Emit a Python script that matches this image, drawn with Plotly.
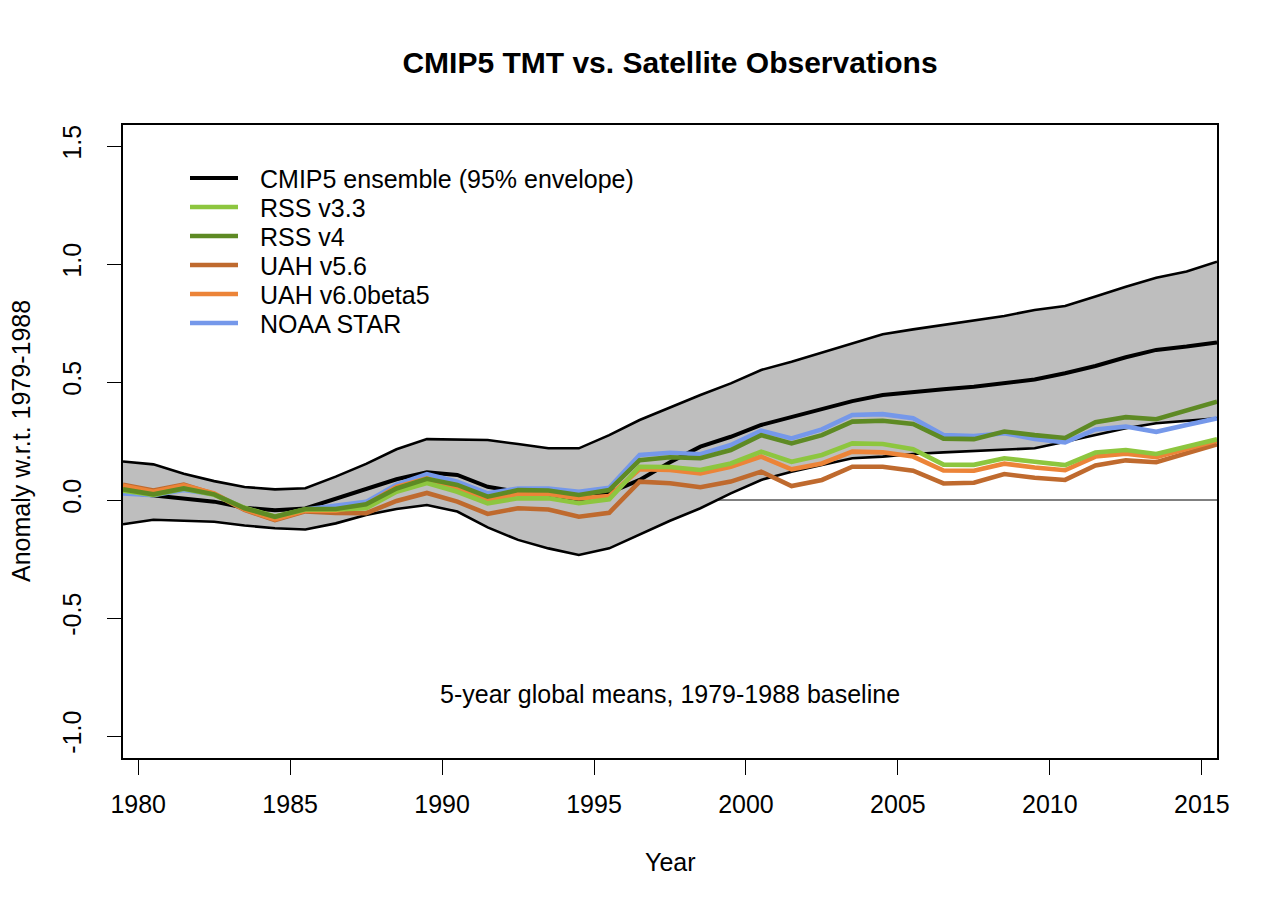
import plotly.graph_objects as go

# ---- data (5-year global means, anomalies w.r.t. 1979-1988) ----
years = [1979.5 + i for i in range(37)]

cmip5_upper = [0.163, 0.151, 0.111, 0.080, 0.055, 0.045, 0.050, 0.099, 0.153, 0.215,
               0.258, 0.257, 0.254, 0.237, 0.219, 0.219, 0.275, 0.339, 0.392, 0.445,
               0.494, 0.551, 0.586, 0.624, 0.664, 0.702, 0.723, 0.742, 0.760, 0.780,
               0.805, 0.822, 0.862, 0.904, 0.942, 0.968, 1.010]
cmip5_mean = [0.033, 0.021, 0.007, -0.007, -0.033, -0.043, -0.036, 0.005, 0.050, 0.088,
              0.118, 0.106, 0.056, 0.035, 0.014, 0.000, 0.030, 0.085, 0.160, 0.226,
              0.268, 0.318, 0.353, 0.388, 0.419, 0.445, 0.455, 0.469, 0.480, 0.494,
              0.511, 0.537, 0.568, 0.605, 0.636, 0.650, 0.667]
cmip5_lower = [-0.103, -0.084, -0.088, -0.092, -0.108, -0.120, -0.125, -0.099, -0.064, -0.038,
               -0.021, -0.049, -0.116, -0.169, -0.205, -0.233, -0.205, -0.148, -0.088, -0.035,
               0.028, 0.085, 0.120, 0.148, 0.177, 0.184, 0.195, 0.202, 0.208, 0.212,
               0.219, 0.247, 0.275, 0.304, 0.325, 0.336, 0.346]

noaa_star = [0.028, 0.020, 0.042, 0.025, -0.035, -0.072, -0.040, -0.025, -0.008, 0.065,
             0.110, 0.078, 0.028, 0.049, 0.049, 0.035, 0.052, 0.191, 0.200, 0.194,
             0.233, 0.294, 0.261, 0.299, 0.360, 0.364, 0.346, 0.275, 0.271, 0.283,
             0.259, 0.244, 0.299, 0.311, 0.289, 0.318, 0.346]
rss_v4 = [0.045, 0.024, 0.049, 0.024, -0.035, -0.071, -0.038, -0.038, -0.018, 0.049,
          0.090, 0.064, 0.014, 0.042, 0.040, 0.021, 0.042, 0.169, 0.181, 0.177,
          0.212, 0.275, 0.240, 0.275, 0.332, 0.336, 0.322, 0.260, 0.258, 0.290,
          0.275, 0.263, 0.330, 0.351, 0.342, 0.381, 0.417]
rss_v33 = [0.040, 0.022, 0.048, 0.022, -0.033, -0.070, -0.040, -0.040, -0.035, 0.035,
           0.072, 0.035, -0.014, 0.007, 0.007, -0.014, 0.003, 0.141, 0.140, 0.127,
           0.155, 0.205, 0.162, 0.191, 0.240, 0.237, 0.215, 0.150, 0.149, 0.177,
           0.162, 0.148, 0.201, 0.212, 0.195, 0.226, 0.257]
uah_v6 = [0.060, 0.035, 0.062, 0.028, -0.040, -0.082, -0.045, -0.045, -0.020, 0.056,
          0.092, 0.049, 0.000, 0.025, 0.025, 0.007, 0.017, 0.130, 0.127, 0.113,
          0.141, 0.184, 0.130, 0.155, 0.205, 0.202, 0.184, 0.125, 0.124, 0.154,
          0.138, 0.126, 0.184, 0.196, 0.181, 0.217, 0.252]
uah_v56 = [0.065, 0.040, 0.065, 0.025, -0.042, -0.085, -0.048, -0.055, -0.056, -0.004,
           0.030, -0.007, -0.059, -0.035, -0.040, -0.071, -0.054, 0.078, 0.071, 0.054,
           0.078, 0.120, 0.059, 0.085, 0.141, 0.141, 0.124, 0.070, 0.073, 0.110,
           0.094, 0.085, 0.146, 0.168, 0.160, 0.196, 0.236]

y_tick_vals = [-1.0, -0.5, 0.0, 0.5, 1.0, 1.5]
y_tick_text = ["-1.0", "-0.5", "0.0", "0.5", "1.0", "1.5"]
x_tick_vals = [1980, 1985, 1990, 1995, 2000, 2005, 2010, 2015]

legend_labels = ["CMIP5 ensemble (95% envelope)", "RSS v3.3", "RSS v4", "UAH v5.6",
                 "UAH v6.0beta5", "NOAA STAR"]

FONT = "Liberation Sans, Arial, Helvetica, sans-serif"
C_RSS33 = "#8DC63F"
C_RSS4 = "#5E8A24"
C_UAH56 = "#BF6A2E"
C_UAH6 = "#EC8438"
C_NOAA = "#7598EA"
legend_colors = ["black", C_RSS33, C_RSS4, C_UAH56, C_UAH6, C_NOAA]
legend_widths = [4, 4.6, 4.6, 4.6, 4.6, 4.6]

# page offset (browser body margin) and target plot-area box in page pixels
OFF = 8
PX0, PX1, PY0, PY1 = 123, 1217, 125, 758
FW, FH = 1264, 896
PW, PH = PX1 - PX0, PY1 - PY0
L, T = PX0 - OFF, PY0 - OFF
R, B = FW - L - PW, FH - T - PH


def px(xabs):
    return (xabs - PX0) / PW


def py(yabs):
    return 1 - (yabs - PY0) / PH


fig = go.Figure()

# zero reference line, drawn beneath the envelope
fig.add_hline(y=0, line=dict(color="black", width=1), layer="below")

# grey envelope
fig.add_trace(go.Scatter(x=years + years[::-1], y=cmip5_upper + cmip5_lower[::-1],
                         fill="toself", fillcolor="#BEBEBE", line=dict(width=0),
                         mode="lines", hoverinfo="skip", showlegend=False))

fig.add_trace(go.Scatter(x=years, y=cmip5_upper, mode="lines",
                         line=dict(color="black", width=2.6), showlegend=False))
fig.add_trace(go.Scatter(x=years, y=cmip5_lower, mode="lines",
                         line=dict(color="black", width=2.6), showlegend=False))
fig.add_trace(go.Scatter(x=years, y=cmip5_mean, mode="lines",
                         line=dict(color="black", width=4), name=legend_labels[0],
                         showlegend=False))

W = 4.6
for series, color, name in [(noaa_star, C_NOAA, "NOAA STAR"), (uah_v56, C_UAH56, "UAH v5.6"),
                            (uah_v6, C_UAH6, "UAH v6.0beta5"), (rss_v33, C_RSS33, "RSS v3.3"),
                            (rss_v4, C_RSS4, "RSS v4")]:
    fig.add_trace(go.Scatter(x=years, y=series, mode="lines", line=dict(color=color, width=W),
                             name=name, showlegend=False))

# manual legend (R-style, no box)
row_y = [178, 207, 236, 265, 294, 323]
for lab, col, lw, yy in zip(legend_labels, legend_colors, legend_widths, row_y):
    fig.add_shape(type="line", xref="paper", yref="paper", x0=px(190), x1=px(238),
                  y0=py(yy), y1=py(yy), line=dict(color=col, width=lw))
    fig.add_annotation(text=lab, xref="paper", yref="paper", x=px(258), y=py(yy + 1),
                       xanchor="left", yanchor="middle", showarrow=False,
                       font=dict(size=25, family=FONT, color="black"))

fig.update_layout(
    width=FW, height=FH,
    margin=dict(l=L, r=R, t=T, b=B, autoexpand=False),
    paper_bgcolor="white", plot_bgcolor="white",
    font=dict(family=FONT, size=25, color="black"),
    title=dict(text="<b>CMIP5 TMT vs. Satellite Observations</b>",
               x=(670 - OFF) / FW, xanchor="center",
               y=1 - (62 - OFF) / FH, yanchor="middle", yref="container",
               font=dict(family=FONT, size=30, color="black")),
    showlegend=False,
    xaxis=dict(range=[1979.5, 2015.5], tickvals=x_tick_vals, ticks="outside", ticklen=15,
               tickwidth=1.3, tickcolor="black", showgrid=False, zeroline=False,
               showline=True, linecolor="black", linewidth=1.5, mirror=True,
               tickfont=dict(size=25), ticklabelstandoff=8),
    yaxis=dict(range=[-(PY1 - 500) / 236, (500 - PY0) / 236], tickvals=y_tick_vals,
               ticktext=y_tick_text, ticks="outside", ticklen=14, tickwidth=1.3,
               tickcolor="black", showgrid=False, zeroline=False, showline=True,
               linecolor="black", linewidth=1.5, mirror=True, tickangle=-90,
               tickfont=dict(size=25), ticklabelstandoff=16),
)

fig.add_annotation(text="5-year global means, 1979-1988 baseline", x=1997.5, y=-0.822,
                   xref="x", yref="y", showarrow=False, font=dict(size=25, family=FONT),
                   xanchor="center", yanchor="middle")
fig.add_annotation(text="Year", x=px(670), y=py(862), xref="paper", yref="paper",
                   showarrow=False, font=dict(size=25, family=FONT), yanchor="middle")
fig.add_annotation(text="Anomaly w.r.t. 1979-1988", x=px(21), y=py(441), xref="paper",
                   yref="paper", showarrow=False, textangle=-90,
                   font=dict(size=25, family=FONT), xanchor="center", yanchor="middle")

fig.write_html("out.html")
